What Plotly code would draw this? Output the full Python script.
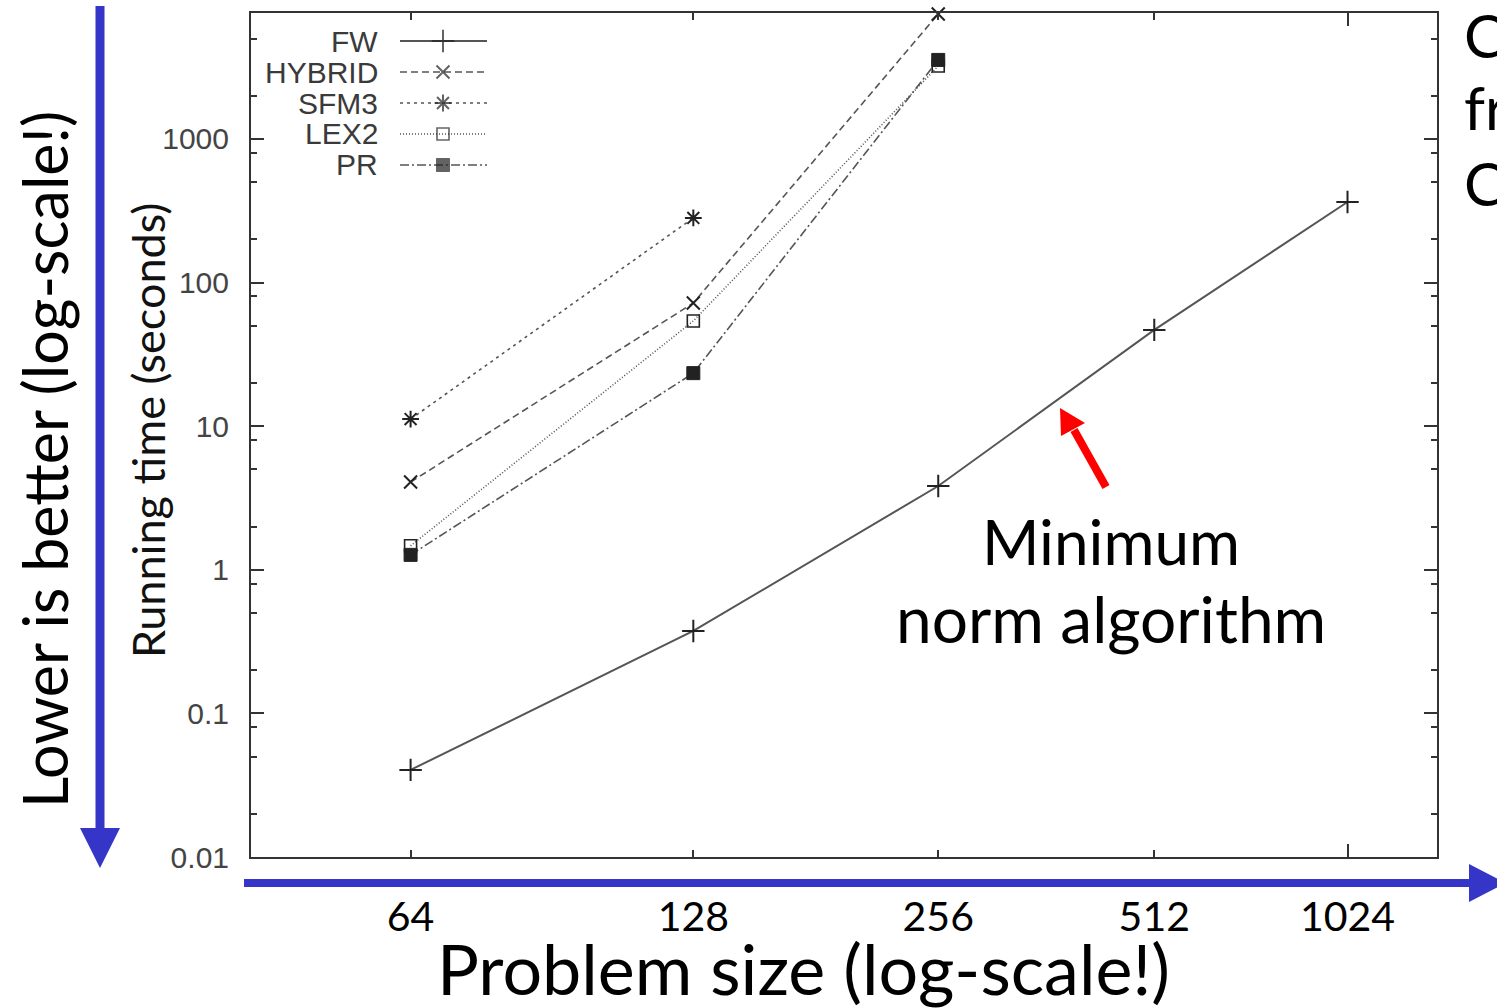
import numpy as np
import plotly.graph_objects as go

# ---------------- data ----------------
sizes = [64, 128, 256, 512, 1024]
fw_time = [0.0404, 0.375, 3.83, 46.8, 364]
hybrid_time = [4.08, 72, 7420]
sfm3_time = [11.2, 282]
lex2_time = [1.47, 54, 3220]
pr_time = [1.27, 23.4, 3550]
y_tick_vals = [0.01, 0.1, 1, 10, 100, 1000]
y_tick_text = ["0.01", "0.1", "1", "10", "100", "1000"]
series_names = ["FW", "HYBRID", "SFM3", "LEX2", "PR"]

# ---------------- geometry helpers ----------------
W, H = 1497, 1008
L, R, T, B = 251, 1437, 13, 857


def px(x):
    return (x - L) / (R - L)


def py(y):
    return (B - y) / (B - T)


xs = np.log2(sizes)  # gnuplot plotted log2(size) on a log axis
GP_FONT = "Liberation Sans"
SLIDE_FONT = "Lato"
LINE_COL = "#555555"
MARK_COL = "#222222"
BLUE = "#3535c8"

styles = {
    "FW": dict(dash="solid", symbol="cross-thin", size=16, lw=2, mlw=2),
    "HYBRID": dict(dash="7px,4px", symbol="x-thin", size=13, lw=1.6, mlw=2),
    "SFM3": dict(dash="3px,4px", symbol="asterisk", size=14, lw=1.6, mlw=2),
    "LEX2": dict(dash="1px,2px", symbol="square-open", size=12, lw=1.6, mlw=1.6),
    "PR": dict(dash="9px,3px,2px,3px", symbol="square", size=13, lw=1.6, mlw=1),
}
data = {
    "FW": fw_time,
    "HYBRID": hybrid_time,
    "SFM3": sfm3_time,
    "LEX2": lex2_time,
    "PR": pr_time,
}

fig = go.Figure()
for name in series_names:
    st = styles[name]
    vals = data[name]
    fig.add_trace(go.Scatter(
        x=xs[:len(vals)], y=vals, mode="lines+markers", name=name,
        line=dict(color=LINE_COL, width=st["lw"], dash=st["dash"]),
        marker=dict(symbol=st["symbol"], size=st["size"], color=MARK_COL,
                    line=dict(color=MARK_COL, width=st["mlw"])),
        cliponaxis=False, showlegend=False, hoverinfo="skip",
    ))

# custom gnuplot-style key (text left of sample)
key_x0, key_x1, key_xm = px(400), px(487), px(443)
for i, name in enumerate(series_names):
    st = styles[name]
    ky = py(41 + 31 * i)
    fig.add_trace(go.Scatter(
        x=[key_x0, key_xm, key_x1], y=[ky, ky, ky], mode="lines+markers",
        xaxis="x2", yaxis="y2",
        line=dict(color=LINE_COL, width=st["lw"], dash=st["dash"]),
        marker=dict(symbol=st["symbol"], size=[0, st["size"], 0], color=MARK_COL,
                    line=dict(color=MARK_COL, width=[0, st["mlw"], 0])),
        showlegend=False, hoverinfo="skip", cliponaxis=False,
    ))

annotations = []
for i, name in enumerate(series_names):
    annotations.append(dict(
        text=name, x=px(380), y=py(41 + 31 * i), xref="paper", yref="paper",
        xanchor="right", yanchor="middle", showarrow=False,
        font=dict(family=GP_FONT, size=30, color="#3a3a3a")))

# gnuplot y title
annotations.append(dict(
    text="Running time (seconds)", x=px(148), y=py(431), xref="paper", yref="paper",
    textangle=-90, xanchor="center", yanchor="middle", showarrow=False,
    font=dict(family=SLIDE_FONT, size=45, color="#111111")))

# slide overlay texts
annotations.append(dict(
    text="Lower is better (log-scale!)", x=px(44), y=py(460), xref="paper", yref="paper",
    textangle=-90, xanchor="center", yanchor="middle", showarrow=False,
    font=dict(family=SLIDE_FONT, size=61, color="black")))
annotations.append(dict(
    text="Problem size (log-scale!)", x=px(803), y=py(968), xref="paper", yref="paper",
    xanchor="center", yanchor="middle", showarrow=False,
    font=dict(family=SLIDE_FONT, size=70, color="black")))
annotations.append(dict(
    text="Minimum", x=px(1111), y=py(541), xref="paper", yref="paper",
    xanchor="center", yanchor="middle", showarrow=False,
    font=dict(family=SLIDE_FONT, size=62, color="black")))
annotations.append(dict(
    text="norm algorithm", x=px(1111), y=py(618), xref="paper", yref="paper",
    xanchor="center", yanchor="middle", showarrow=False,
    font=dict(family=SLIDE_FONT, size=64, color="black")))
for txt, yy in [("C", 35), ("fr", 107), ("C", 183)]:
    annotations.append(dict(
        text=txt, x=px(1462), y=py(yy), xref="paper", yref="paper",
        xanchor="left", yanchor="middle", showarrow=False,
        font=dict(family=SLIDE_FONT, size=60, color="black")))

shapes = [
    # vertical blue arrow
    dict(type="line", xref="paper", yref="paper", x0=px(100), x1=px(100),
         y0=py(6), y1=py(830), line=dict(color=BLUE, width=9)),
    dict(type="path", xref="paper", yref="paper",
         path=f"M {px(80)} {py(828)} L {px(120)} {py(828)} L {px(100)} {py(868)} Z",
         fillcolor=BLUE, line=dict(color=BLUE, width=0)),
    # horizontal blue arrow
    dict(type="line", xref="paper", yref="paper", x0=px(244), x1=px(1472),
         y0=py(883), y1=py(883), line=dict(color=BLUE, width=8)),
    dict(type="path", xref="paper", yref="paper",
         path=f"M {px(1469)} {py(864)} L {px(1469)} {py(902)} L {px(1506)} {py(883)} Z",
         fillcolor=BLUE, line=dict(color=BLUE, width=0)),
    # red arrow
    dict(type="line", xref="paper", yref="paper", x0=px(1106), x1=px(1074),
         y0=py(487), y1=py(430), line=dict(color="#ff0000", width=8)),
    dict(type="path", xref="paper", yref="paper",
         path=f"M {px(1060)} {py(408)} L {px(1061)} {py(436)} L {px(1085)} {py(423)} Z",
         fillcolor="#ff0000", line=dict(color="#ff0000", width=0)),
]

y_minor = [m * d for d in [0.01, 0.1, 1, 10, 100, 1000] for m in (2, 5, 8)]

fig.update_layout(
    width=W, height=H,
    margin=dict(l=L, r=W - R, t=T, b=H - B, pad=0),
    paper_bgcolor="white", plot_bgcolor="white",
    showlegend=False,
    xaxis=dict(
        type="log", range=[np.log10(5.5), np.log10(10.5)],
        showgrid=False, zeroline=False, showline=True, linecolor="#333333", linewidth=2,
        mirror="ticks", ticks="inside", ticklen=13, tickwidth=2, tickcolor="#333333",
        tickmode="array", tickvals=[10], showticklabels=False,
        minor=dict(tickmode="array", tickvals=[6, 7, 8, 9], ticks="inside",
                   ticklen=7, tickwidth=2, tickcolor="#333333", showgrid=False),
    ),
    xaxis3=dict(
        type="log", range=[np.log10(5.5), np.log10(10.5)], overlaying="x",
        anchor="y", side="bottom",
        showgrid=False, zeroline=False, showline=False, ticks="",
        tickmode="array", tickvals=list(xs), ticktext=[str(s) for s in sizes],
        ticklabelstandoff=32,
        tickfont=dict(family=SLIDE_FONT, size=41, color="black"),
    ),
    yaxis=dict(
        type="log", range=[-2, 3.877],
        showgrid=False, zeroline=False, showline=True, linecolor="#333333", linewidth=2,
        mirror="ticks", ticks="inside", ticklen=13, tickwidth=2, tickcolor="#333333",
        tickmode="array", tickvals=y_tick_vals, ticktext=y_tick_text,
        ticklabelstandoff=14,
        tickfont=dict(family=GP_FONT, size=30, color="#444444"),
        minor=dict(tickmode="array", tickvals=y_minor, ticks="inside",
                   ticklen=6, tickwidth=2, tickcolor="#333333", showgrid=False),
    ),
    xaxis2=dict(range=[0, 1], overlaying="x", visible=False, fixedrange=True),
    yaxis2=dict(range=[0, 1], overlaying="y", visible=False, fixedrange=True),
    annotations=annotations,
    shapes=shapes,
)

# dummy invisible trace so the label axis is rendered
fig.add_trace(go.Scatter(x=[xs[0]], y=[1], xaxis="x3", yaxis="y", mode="markers",
                         marker=dict(opacity=0), showlegend=False, hoverinfo="skip"))

fig.write_html("out.html", config={"displayModeBar": False},
               post_script="document.body.style.margin='0px';document.body.style.overflow='hidden';")
